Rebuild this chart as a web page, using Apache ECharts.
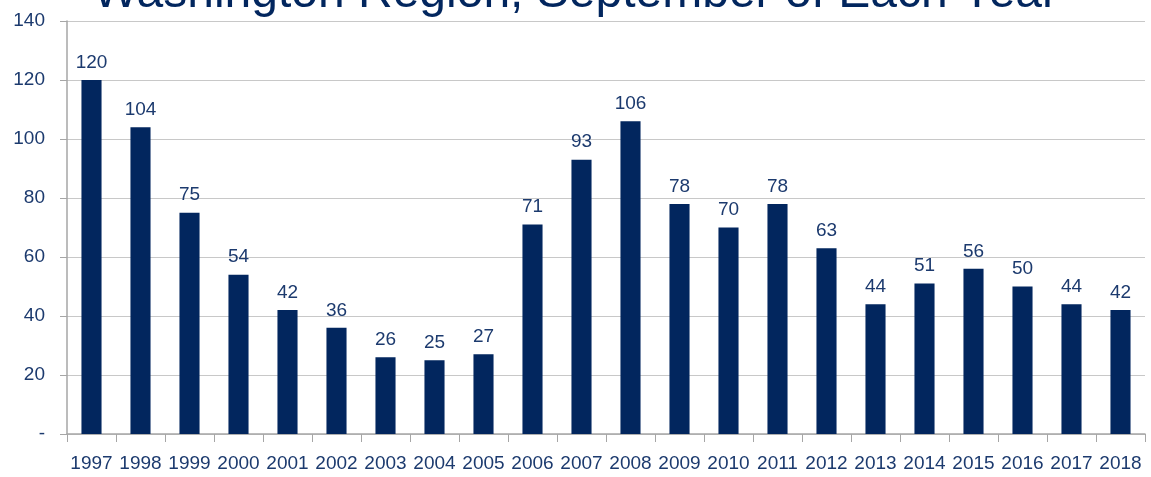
<!DOCTYPE html>
<html>
<head>
<meta charset="utf-8">
<script src="https://cdn.jsdelivr.net/npm/echarts@6/dist/echarts.min.js"></script>
<style>
  html, body { margin: 0; padding: 0; background: #fff; }
  #chart { width: 1151px; height: 477px; }
</style>
</head>
<body>
<div id="chart"></div>
<script>
const years = ['1997', '1998', '1999', '2000', '2001', '2002', '2003', '2004', '2005', '2006', '2007',
  '2008', '2009', '2010', '2011', '2012', '2013', '2014', '2015', '2016', '2017', '2018'];
const counts = [120, 104, 75, 54, 42, 36, 26, 25, 27, 71, 93, 106, 78, 70, 78, 63, 44, 51, 56, 50, 44, 42];
const titleText = 'Washington Region, September of Each Year';

const font = '"Liberation Sans", Arial, sans-serif';
const navy = '#02265e';
const textColor = '#1c3a6e';

const chart = echarts.init(document.getElementById('chart'));
chart.setOption({
  animation: false,
  title: {
    text: titleText,
    left: 'center',
    top: -35,
    textStyle: { fontFamily: font, fontSize: 48, fontWeight: 'normal', color: navy }
  },
  grid: { left: 67, right: 6, top: 21, bottom: 43 },
  xAxis: {
    type: 'category',
    data: years,
    axisLine: { lineStyle: { color: '#a6a6a6', width: 1.5 } },
    axisTick: { show: true, length: 8, lineStyle: { color: '#a6a6a6' } },
    axisLabel: { fontFamily: font, fontSize: 19, color: textColor, margin: 20, interval: 0 }
  },
  yAxis: {
    type: 'value',
    min: 0,
    max: 140,
    interval: 20,
    axisLine: { show: true, lineStyle: { color: '#a6a6a6', width: 1.5 } },
    axisTick: { show: true, length: 7, lineStyle: { color: '#a6a6a6' } },
    splitLine: { lineStyle: { color: '#c8c8c8', width: 1.2 } },
    axisLabel: {
      fontFamily: font, fontSize: 19, color: textColor, margin: 22,
      formatter: v => (v === 0 ? '-' : v)
    }
  },
  series: [{
    type: 'bar',
    data: counts,
    barWidth: '41%',
    itemStyle: { color: navy },
    label: {
      show: true,
      position: 'top',
      distance: 8,
      fontFamily: font,
      fontSize: 19,
      color: textColor
    }
  }]
});
</script>
</body>
</html>
